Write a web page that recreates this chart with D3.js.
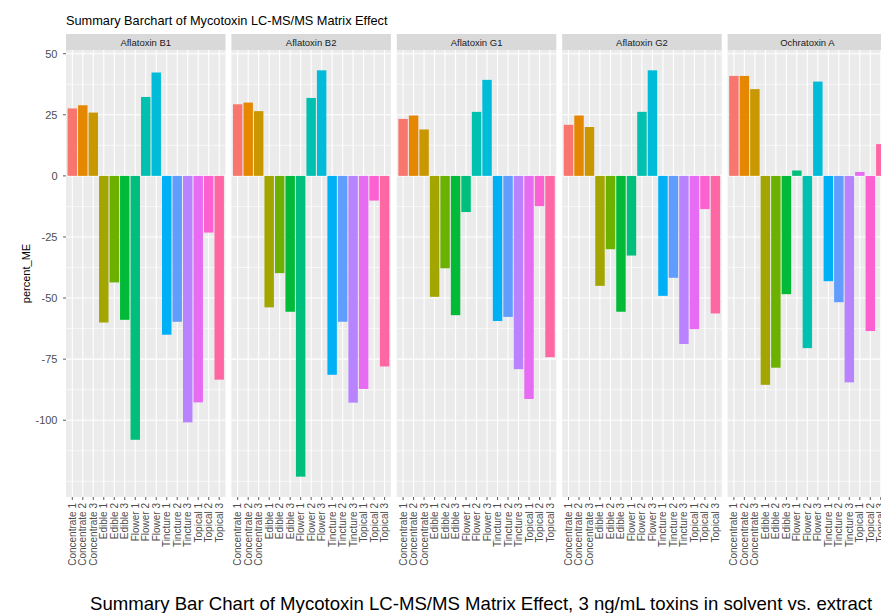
<!DOCTYPE html>
<html>
<head>
<meta charset="utf-8">
<script src="https://cdn.jsdelivr.net/npm/d3@7"></script>
<style>
  html, body { margin: 0; padding: 0; background: #ffffff; overflow: hidden; }
  svg { display: block; font-family: "Liberation Sans", Arial, sans-serif; }
</style>
</head>
<body>
<svg id="chart" width="881" height="613"></svg>
<script>
// ---- data ----
const categories = ["Concentrate 1","Concentrate 2","Concentrate 3",
  "Edible 1","Edible 2","Edible 3",
  "Flower 1","Flower 2","Flower 3",
  "Tincture 1","Tincture 2","Tincture 3",
  "Topical 1","Topical 2","Topical 3"];
const toxins = ["Aflatoxin B1","Aflatoxin B2","Aflatoxin G1","Aflatoxin G2","Ochratoxin A"];
const aflatoxinB1 = [27.6, 28.9, 25.9, -60.0, -43.6, -58.9, -108.0, 32.3, 42.3, -65.0, -59.7, -100.9, -92.7, -23.2, -83.4];
const aflatoxinB2 = [29.3, 30.0, 26.5, -53.8, -39.8, -55.6, -123.1, 31.9, 43.2, -81.4, -59.7, -92.8, -87.2, -10.1, -78.0];
const aflatoxinG1 = [23.3, 24.7, 19.0, -49.5, -37.8, -57.0, -14.8, 26.2, 39.3, -59.4, -57.7, -79.1, -91.3, -12.4, -74.2];
const aflatoxinG2 = [20.9, 24.7, 20.0, -45.0, -30.0, -55.6, -32.6, 26.2, 43.2, -49.1, -41.7, -68.8, -62.7, -13.6, -56.3];
const ochratoxinA = [40.9, 40.9, 35.5, -85.5, -78.5, -48.4, 2.2, -70.5, 38.6, -43.1, -51.7, -84.5, 1.6, -63.5, 13.0];
const seriesValues = [aflatoxinB1, aflatoxinB2, aflatoxinG1, aflatoxinG2, ochratoxinA];
const yTicks = [50, 25, 0, -25, -50, -75, -100];
const hueColors = ["#F8766D","#E58700","#C99800","#A3A500","#6BB100","#00BA38","#00BF7D",
  "#00C0AF","#00BCD8","#00B0F6","#619CFF","#B983FF","#E76BF3","#FD61D1","#FF67A4"];
const titleText = "Summary Barchart of Mycotoxin LC-MS/MS Matrix Effect";
const captionText = "Summary Bar Chart of Mycotoxin LC-MS/MS Matrix Effect, 3 ng/mL toxins in solvent vs. extract";
const yTitle = "percent_ME";

// ---- layout ----
const svg = d3.select("#chart");
svg.append("rect").attr("width", 881).attr("height", 613).attr("fill", "#fff");

const panelLeft = 66, panelW = 159.5, panelStep = 165.4;
const panelTop = 50, panelBottom = 497;
const stripTop = 34;

const all = seriesValues.flat().concat([0]);
const ext = d3.extent(all);
const pad = (ext[1] - ext[0]) * 0.05;
const y = d3.scaleLinear().domain([ext[0] - pad, ext[1] + pad]).range([panelBottom, panelTop]);

// minor breaks (ggplot style: midpoints, extended one step beyond majors)
const majorAll = d3.range(-125, 51, 25);
const minor = [];
majorAll.forEach(v => { const m = v + 12.5; if (m > y.domain()[0] && m < y.domain()[1]) minor.push(m); });
if (-125 > y.domain()[0]) minor.push(-125);

// ggplot discrete expansion: 0.6 units each side, bars 0.9 wide
const x = d3.scalePoint().domain(categories)
  .range([0, panelW]).padding(0.6 / 1.0 * 2 / 2 * (1 / 1)).align(0.5);
const unit = panelW / (categories.length - 1 + 1.2);
x.range([unit * 0.6, panelW - unit * 0.6]).padding(0);
const barW = unit * 0.9;

toxins.forEach((tox, pi) => {
  const g = svg.append("g").attr("transform", `translate(${panelLeft + pi * panelStep},0)`);
  // strip
  g.append("rect").attr("x", 0).attr("y", stripTop).attr("width", panelW).attr("height", panelTop - stripTop)
    .attr("fill", "#D9D9D9");
  g.append("text").attr("x", panelW / 2).attr("y", stripTop + 11.5).attr("text-anchor", "middle")
    .attr("font-size", 9.5).attr("fill", "#1A1A1A").text(tox);
  // panel bg
  g.append("rect").attr("x", 0).attr("y", panelTop).attr("width", panelW).attr("height", panelBottom - panelTop)
    .attr("fill", "#EBEBEB");
  // minor grid
  g.selectAll("line.minor").data(minor).join("line")
    .attr("x1", 0).attr("x2", panelW).attr("y1", d => y(d)).attr("y2", d => y(d))
    .attr("stroke", "#fff").attr("stroke-width", 0.6);
  // major grid
  g.selectAll("line.major").data(yTicks).join("line")
    .attr("x1", 0).attr("x2", panelW).attr("y1", d => y(d)).attr("y2", d => y(d))
    .attr("stroke", "#fff").attr("stroke-width", 1.1);
  g.selectAll("line.vmajor").data(categories).join("line")
    .attr("x1", d => x(d)).attr("x2", d => x(d)).attr("y1", panelTop).attr("y2", panelBottom)
    .attr("stroke", "#fff").attr("stroke-width", 1.1);
  // bars
  const vals = seriesValues[pi];
  g.selectAll("rect.bar").data(categories.map((c, i) => ({ c, v: vals[i], i }))).join("rect")
    .attr("x", d => x(d.c) - barW / 2)
    .attr("width", barW)
    .attr("y", d => y(Math.max(0, d.v)))
    .attr("height", d => Math.abs(y(d.v) - y(0)))
    .attr("fill", d => hueColors[d.i]);
  // x ticks
  g.selectAll("line.xt").data(categories).join("line")
    .attr("x1", d => x(d)).attr("x2", d => x(d)).attr("y1", panelBottom).attr("y2", panelBottom + 3)
    .attr("stroke", "#333").attr("stroke-width", 0.8);
  // x labels
  g.selectAll("text.xl").data(categories).join("text")
    .attr("transform", d => `translate(${x(d)},${panelBottom + 6}) rotate(-90)`)
    .attr("text-anchor", "end").attr("dominant-baseline", "central")
    .attr("font-size", 10).attr("fill", "#4D4D4D").text(d => d);
});

// y axis
const ya = svg.append("g");
ya.selectAll("line").data(yTicks).join("line")
  .attr("x1", panelLeft - 3).attr("x2", panelLeft).attr("y1", d => y(d)).attr("y2", d => y(d))
  .attr("stroke", "#333").attr("stroke-width", 0.8);
ya.selectAll("text").data(yTicks).join("text")
  .attr("x", panelLeft - 8.5).attr("y", d => y(d)).attr("text-anchor", "end").attr("dominant-baseline", "central")
  .attr("font-size", 11).attr("fill", "#4D4D4D").text(d => d);

svg.append("text").attr("transform", `translate(30,${(panelTop + panelBottom) / 2}) rotate(-90)`)
  .attr("text-anchor", "middle").attr("font-size", 11).attr("fill", "#000").text(yTitle);

svg.append("text").attr("x", panelLeft).attr("y", 25).attr("font-size", 12.75).attr("fill", "#000").text(titleText);
svg.append("text").attr("x", 90).attr("y", 610).attr("font-size", 18.6).attr("fill", "#000").text(captionText);
</script>
</body>
</html>
